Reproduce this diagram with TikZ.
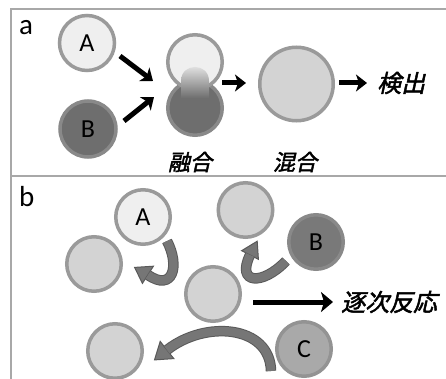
\documentclass[tikz,border=0pt]{standalone}
\usepackage{fontspec}
\setmainfont{Carlito}
\newfontfamily\jp[FakeSlant=0.22,FakeBold=2]{Noto Sans CJK JP}
\usetikzlibrary{arrows.meta}
\definecolor{frm}{HTML}{A8A8A8}
\definecolor{ring}{HTML}{9A9A9A}
\definecolor{lite}{HTML}{EFEFEF}
\definecolor{mid}{HTML}{D3D3D3}
\definecolor{dark}{HTML}{6E6E6E}
\definecolor{darkring}{HTML}{898989}
\definecolor{cfill}{HTML}{A9A9A9}
\definecolor{cring}{HTML}{939393}
\definecolor{bandfill}{HTML}{767676}
\definecolor{bandline}{HTML}{595959}
\begin{document}
\begin{tikzpicture}[x=1pt,y=-1pt,
  ball/.style={circle, draw=ring, line width=3.5pt, inner sep=0pt, minimum size=#1,
               font=\fontsize{26}{28}\selectfont},
  ball/.default=54.5pt,
  litebal/.style={ball=#1, fill=lite},
  litebal/.default=54.5pt,
  midbal/.style={ball=#1, fill=mid},
  midbal/.default=54.5pt,
  darkbal/.style={ball=#1, fill=dark, draw=darkring},
  darkbal/.default=54.5pt,
  panellbl/.style={font=\fontsize{29}{31}\selectfont, anchor=base west, inner sep=0pt},
  jlbl/.style={font=\jp\fontsize{22}{24}\selectfont, inner sep=0pt},
  blk/.style={line width=5pt, black, -{Stealth[length=11pt,width=17pt,inset=3pt]}},
  bandout/.style={line width=10.5pt, bandline},
  bandin/.style={line width=8.5pt, bandfill},
  bandhead/.style={fill=bandfill, draw=bandline, line width=1pt, line join=miter},
  frame/.style={draw=frm, line width=1.5pt}
]
\useasboundingbox (0,0) rectangle (446,379);
% frame
\draw[frame] (11,379) -- (11,9) -- (446,9);
\draw[frame] (11,176) -- (446,176);

% ---------- panel a ----------
\node[panellbl] (la) at (19,35) {a};
\node[litebal=55pt] (aA) at (87,43) {A};
\node[darkbal=56pt] (aB) at (88,129) {B};
\node[darkbal] (fuB) at (195,108) {};
\node[litebal] (fuA) at (195,62) {};
\shade[top color=lite!95!white, middle color=black!30, bottom color=dark]
  (181,98) -- (181,81) .. controls (181,62.3) and (209,62.3) .. (209,81) -- (209,98) -- cycle;
\node[midbal=73.5pt] (mix) at (296.5,84) {};
\node[jlbl] (tfuse) at (190,162) {融合};
\node[jlbl] (tmix) at (295,162) {混合};
\node[jlbl, font=\jp\fontsize{24}{26}\selectfont, anchor=west] (tdet) at (377,83) {検出};

\coordinate (a1s) at (120,56);  \coordinate (a1e) at (153,81);
\coordinate (a2s) at (124,121); \coordinate (a2e) at (154,97);
\coordinate (a3s) at (222,83);  \coordinate (a3e) at (246,83);
\coordinate (a4s) at (339,83);  \coordinate (a4e) at (367,83);
\draw[blk] (a1s) -- (a1e);
\draw[blk] (a2s) -- (a2e);
\draw[blk] (a3s) -- (a3e);
\draw[blk] (a4s) -- (a4e);

% ---------- panel b ----------
\node[panellbl] (lb) at (19,206) {b};
\node[litebal] (bA) at (143,217) {A};
\node[midbal] (bL1) at (94,264) {};
\node[midbal] (bT) at (245.5,210) {};
\node[darkbal, fill=bandfill!98!white] (bB) at (316,242) {B};
\node[midbal] (bM) at (213,294) {};
\node[midbal] (bL2) at (115,351) {};
\node[ball, fill=cfill, draw=cring] (bC) at (304,349) {C};
\node[jlbl, font=\jp\fontsize{24}{26}\selectfont, anchor=west] (tseq) at (341,302) {逐次反応};

\coordinate (b4s) at (253,302); \coordinate (b4e) at (333,302);
\draw[blk, -{Stealth[length=12pt,width=20pt,inset=3pt]}] (b4s) -- (b4e);

% curved arrow A -> left circle
\coordinate (c1s) at (167,241);
\coordinate (c1e) at (148,275);
\draw[bandout] (c1s) .. controls (180,266) and (173,292) .. (c1e);
\draw[bandhead] (134.6,267.4) -- (153.4,266.2) -- (142.4,283.4) -- cycle;
\draw[bandin] (c1s) .. controls (180,266) and (173,292) .. (c1e);

% curved arrow B -> top circle
\coordinate (c2s) at (286,261);
\coordinate (c2e) at (250,255);
\draw[bandout] (c2s) .. controls (262,286) and (236,284) .. (c2e);
\draw[bandhead] (257.2,241.2) -- (258.4,259.3) -- (241.6,250.7) -- cycle;
\draw[bandin] (c2s) .. controls (262,286) and (236,284) .. (c2e);

% curved arrow C -> bottom-left circle
\coordinate (c3s) at (271,371);
\coordinate (c3e) at (167,350);
\draw[bandout] (c3s) .. controls (270,325) and (205,320) .. (c3e);
\draw[bandhead] (154.5,359.9) -- (173.8,358.6) -- (160.2,341.4) -- cycle;
\draw[bandin] (c3s) .. controls (270,325) and (205,320) .. (c3e);
\end{tikzpicture}
\end{document}
